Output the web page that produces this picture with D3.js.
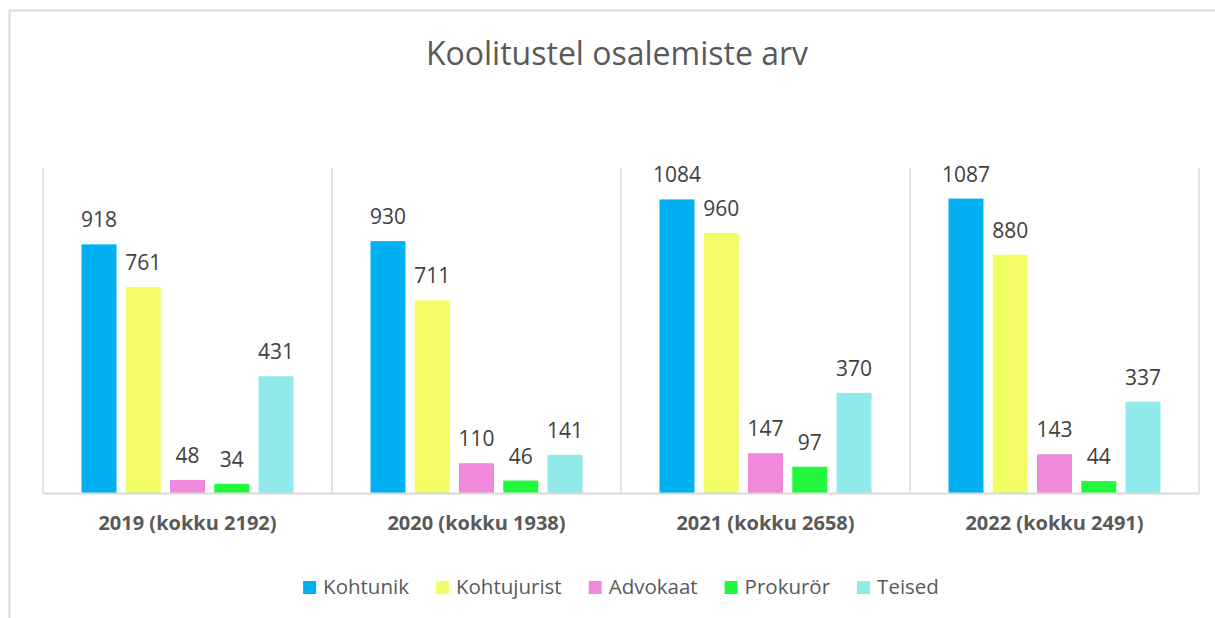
<!DOCTYPE html>
<html>
<head>
<meta charset="utf-8">
<script src="https://cdn.jsdelivr.net/npm/d3@7"></script>
<style>
  body { margin: 0; background: #fff; }
  text { font-family: "Open Sans", sans-serif; }
</style>
</head>
<body>
<div id="chart"></div>
<script>
// data
const years = ["2019 (kokku 2192)", "2020 (kokku 1938)", "2021 (kokku 2658)", "2022 (kokku 2491)"];
const seriesNames = ["Kohtunik", "Kohtujurist", "Advokaat", "Prokurör", "Teised"];
const kohtunik = [918, 930, 1084, 1087];
const kohtujurist = [761, 711, 960, 880];
const advokaat = [48, 110, 147, 143];
const prokuror = [34, 46, 97, 44];
const teised = [431, 141, 370, 337];
const colors = ["#00b0f0", "#f3fe66", "#f088dc", "#22f73c", "#8feae9"];

const seriesValues = [kohtunik, kohtujurist, advokaat, prokuror, teised];
const rows = years.map((y, i) => ({
  year: y,
  values: seriesNames.map((s, j) => ({ key: s, value: seriesValues[j][i] }))
}));

const width = 1215, height = 618;
const margin = {top: 168, right: 16, bottom: 125, left: 43};

const svg = d3.select("#chart").append("svg")
  .attr("width", width)
  .attr("height", height);

// outer frame (only top and left edges are visible in the picture)
svg.append("path")
  .attr("d", "M9.5," + height + "V10.5H" + width)
  .attr("fill", "none")
  .attr("stroke", "#d9d9d9")
  .attr("stroke-width", 2);

svg.append("text")
  .attr("x", 617)
  .attr("y", 65)
  .attr("text-anchor", "middle")
  .attr("font-size", 32)
  .attr("fill", "#595959")
  .text("Koolitustel osalemiste arv");

const x0 = d3.scaleBand()
  .domain(years)
  .range([margin.left, width - margin.right])
  .padding(0);

const x1 = d3.scaleBand()
  .domain(seriesNames)
  .range([0, x0.bandwidth()])
  .paddingInner(0.21)
  .paddingOuter(0.87);

const y = d3.scaleLinear()
  .domain([0, 1200])
  .range([height - margin.bottom, margin.top]);

const color = d3.scaleOrdinal().domain(seriesNames).range(colors);

// category separators
svg.append("g")
  .selectAll("line")
  .data(years.concat(["end"]))
  .join("line")
  .attr("x1", (d, i) => margin.left + i * x0.step())
  .attr("x2", (d, i) => margin.left + i * x0.step())
  .attr("y1", margin.top)
  .attr("y2", y(0))
  .attr("stroke", "#d9d9d9")
  .attr("stroke-width", 1.5);

const groups = svg.append("g")
  .selectAll("g")
  .data(rows)
  .join("g")
  .attr("transform", d => "translate(" + x0(d.year) + ",0)");

groups.selectAll("rect")
  .data(d => d.values)
  .join("rect")
  .attr("x", d => x1(d.key))
  .attr("y", d => y(d.value))
  .attr("width", x1.bandwidth())
  .attr("height", d => y(0) - y(d.value))
  .attr("fill", d => color(d.key));

groups.selectAll("text")
  .data(d => d.values)
  .join("text")
  .attr("x", d => x1(d.key) + x1.bandwidth() / 2)
  .attr("y", d => y(d.value) - 17)
  .attr("text-anchor", "middle")
  .attr("font-size", 21)
  .attr("fill", "#404040")
  .text(d => d.value);

// baseline axis
const xAxis = d3.axisBottom(x0).tickSize(0).tickPadding(23);
const axisG = svg.append("g")
  .attr("transform", "translate(0," + y(0) + ")")
  .call(xAxis);
axisG.select(".domain").attr("stroke", "#d9d9d9").attr("stroke-width", 2);
axisG.selectAll("text")
  .attr("font-size", 20)
  .attr("font-weight", "bold")
  .attr("fill", "#595959")
  .attr("font-family", "Open Sans, sans-serif");

// legend, laid out from the text widths and centred
const legend = svg.append("g");
const items = legend.selectAll("g")
  .data(seriesNames)
  .join("g");

items.append("rect")
  .attr("y", -13)
  .attr("width", 13)
  .attr("height", 13)
  .attr("fill", d => color(d));

items.append("text")
  .attr("x", 20)
  .attr("font-size", 20.5)
  .attr("fill", "#595959")
  .text(d => d);

let pos = 0;
items.each(function() {
  d3.select(this).attr("transform", "translate(" + pos + ",0)");
  pos += 20 + this.querySelector("text").getComputedTextLength() + 27;
});
pos -= 27;
legend.attr("transform", "translate(" + (621 - pos / 2) + ",594)");
</script>
</body>
</html>
